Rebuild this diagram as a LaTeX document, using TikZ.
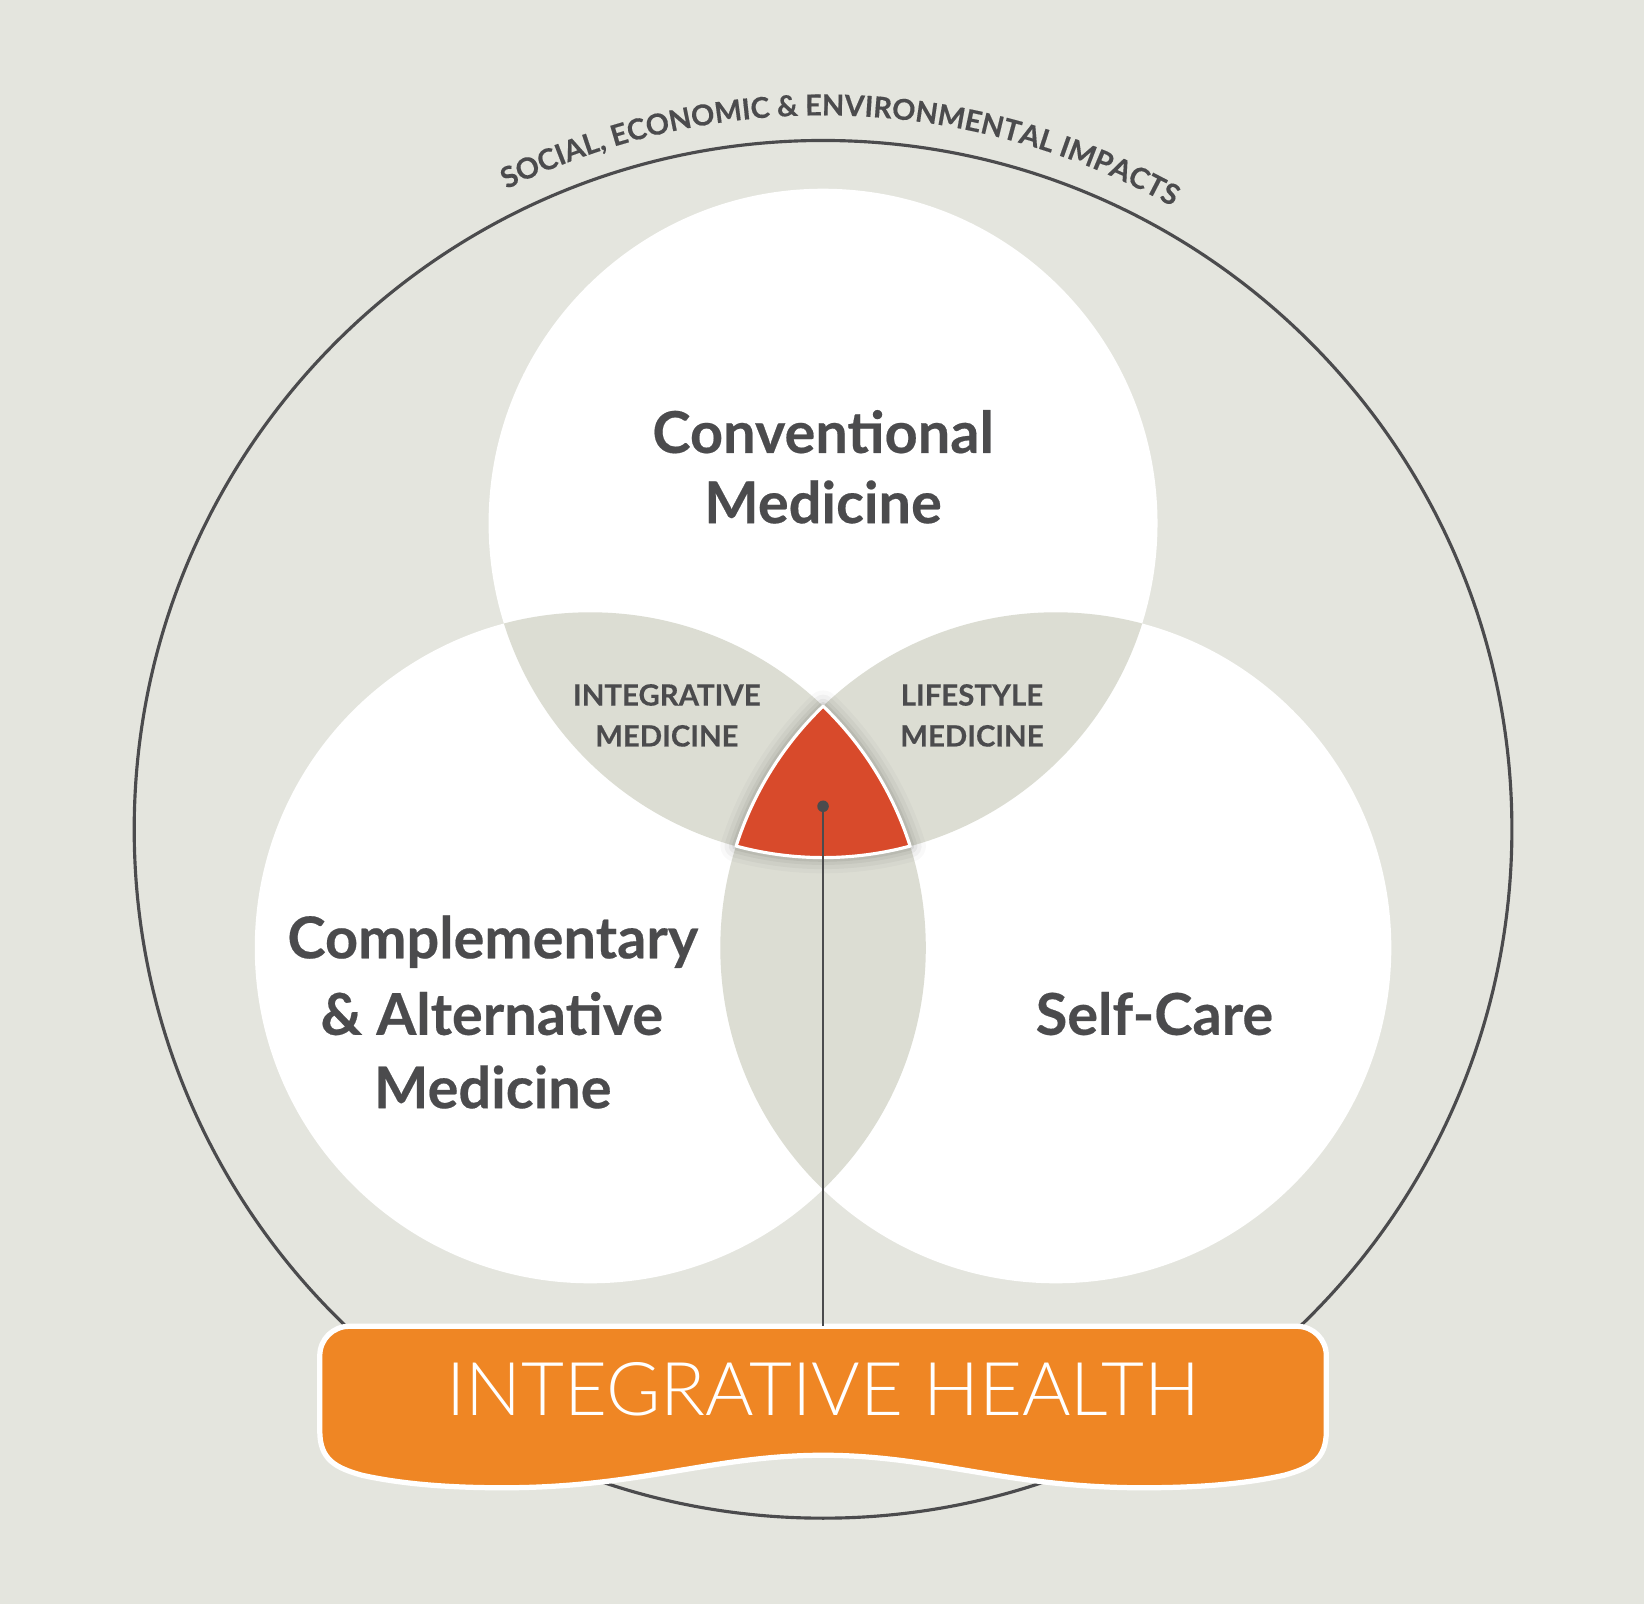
\documentclass[tikz,border=0pt]{standalone}
\usepackage{fontspec}
\setmainfont{Lato}[BoldFeatures={FakeBold=0.35}]
\newfontfamily\latolight{Lato Light}
\usetikzlibrary{calc}
\definecolor{bg}{HTML}{E4E5DE}
\definecolor{lens}{HTML}{DCDDD3}
\definecolor{ink}{HTML}{4B4B4D}
\definecolor{redc}{HTML}{D84A2B}
\definecolor{orangec}{HTML}{EF8624}
\newdimen\chw
\newcommand\arcfont{\bfseries\fontsize{\arcsize}{\arcsize}\selectfont}
\newcommand\measurearc[2]{% #1 text, #2 fallback width
  \pgfinterruptpicture\setbox0\hbox{\arcfont #1}\global\chw=\wd0\relax\endpgfinterruptpicture
  \ifdim\chw<0.1pt \global\chw=#2\relax\fi}
\begin{document}
\begin{tikzpicture}[x=1pt,y=1pt,
  biglabel/.style={text=ink, font=\bfseries\fontsize{55}{67}\selectfont, inner sep=0pt, anchor=base},
  smalllabel/.style={text=ink, font=\bfseries\fontsize{28}{39}\selectfont, inner sep=0pt, anchor=base},
  redpath/.style={insert path={(702.1,723.0) arc[start angle=162.35,end angle=133.92,radius=320] arc[start angle=46.08,end angle=17.65,radius=320] arc[start angle=285.07,end angle=254.93,radius=319] -- cycle}}
]
\fill[bg] (0,0) rectangle (1568,1530);
\useasboundingbox (0,0) rectangle (1568,1530);
\coordinate (C0) at (785,739);
\coordinate (CT) at (785,1031);
\coordinate (CL) at (563,626);
\coordinate (CR) at (1007,626);
% outer circle
\draw[ink, line width=3] (C0) circle[radius=657];
% curved title, letter by letter, sized to span the reference's arc
\def\arcsize{31}
\measurearc{SOCIAL, ECONOMIC \& ENVIRONMENTAL IMPACTS}{656.1pt}
\pgfmathsetmacro\arcsize{31*(656.1/\chw)}
\measurearc{SOCIAL, ECONOMIC \& ENVIRONMENTAL IMPACTS}{656.1pt}
\pgfmathsetmacro\startang{88.7+(\chw/681)*180/pi/2}
\xdef\curang{\startang}
\foreach[count=\i] \c in {S,O,C,I,A,L,{,},\ ,E,C,O,N,O,M,I,C,\ ,\&,\ ,E,N,V,I,R,O,N,M,E,N,T,A,L,\ ,I,M,P,A,C,T,S}{
  \measurearc{\c}{16.8pt}
  \pgfmathsetmacro\midang{\curang-(\chw/2)/681*180/pi}
  \node[text=ink, font=\arcfont, inner sep=0pt, anchor=base, rotate=\midang-90] (arc\i) at ($(C0)+(\midang:681)$) {\c};
  \pgfmathsetmacro\nextang{\curang-\chw/681*180/pi}
  \xdef\curang{\nextang}
}
% venn circles
\fill[white] (CT) circle[radius=319];
\fill[white] (CL) circle[radius=320];
\fill[white] (CR) circle[radius=320];
\begin{scope}
  \clip (CT) circle[radius=319];
  \fill[lens] (CL) circle[radius=320];
  \fill[lens] (CR) circle[radius=320];
\end{scope}
\begin{scope}
  \clip (CL) circle[radius=320];
  \fill[lens] (CR) circle[radius=320];
\end{scope}
% shadow and centre
\foreach \w/\o in {30/0.025,22/0.035,14/0.045,8/0.06}{
  \draw[black, opacity=\o, line width=\w, line join=round, redpath];
}
\fill[redc, redpath];
\draw[white, line width=3, line join=round, redpath];
% labels
\node[biglabel] (conv1) at (785,1098) {Conventional};
\node[biglabel] (conv2) at (785,1031) {Medicine};
\node[biglabel] (cam1) at (470,616) {Complementary};
\node[biglabel] (cam2) at (469,543) {\& Alternative};
\node[biglabel] (cam3) at (470,473) {Medicine};
\node[biglabel] (self) at (1101,543) {Self-Care};
\node[smalllabel] (im1) at (636,857) {INTEGRATIVE};
\node[smalllabel] (im2) at (636,818) {MEDICINE};
\node[smalllabel] (lm1) at (927,857) {LIFESTYLE};
\node[smalllabel] (lm2) at (927,818) {MEDICINE};
% banner
\draw[white, line width=5, fill=orangec, line join=round]
  (305,165) .. controls (305,138) and (320,130) .. (345,123)
  .. controls (390,113) and (440,111) .. (480,111)
  .. controls (610,111) and (680,142) .. (785,142)
  .. controls (890,142) and (960,111) .. (1090,111)
  .. controls (1130,111) and (1180,113) .. (1225,123)
  .. controls (1250,130) and (1265,138) .. (1265,165)
  -- (1265,237) arc[start angle=0,end angle=90,radius=28]
  -- (333,265) arc[start angle=90,end angle=180,radius=28] -- cycle;
\coordinate (bannertop) at (785,265);
\node[text=white, font=\latolight\fontsize{70.7}{70.7}\selectfont, inner sep=0pt, anchor=base] (ih) at (785,179.5) {INTEGRATIVE HEALTH};
% pointer
\node[circle, fill=ink, inner sep=0pt, minimum size=11pt] (dot) at (785,761) {};
\draw[ink, line width=2.5] (dot.center) -- (bannertop);
\end{tikzpicture}
\end{document}
